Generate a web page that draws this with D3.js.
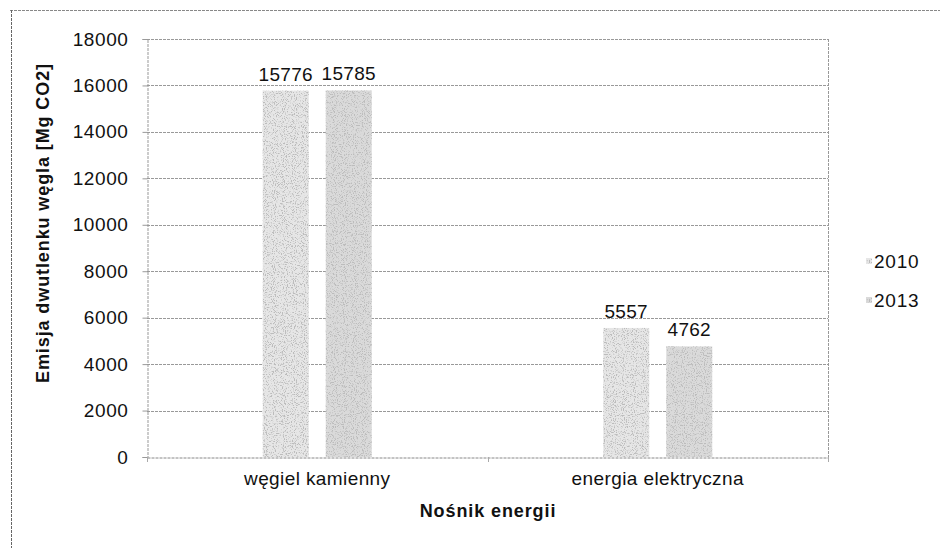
<!DOCTYPE html>
<html>
<head>
<meta charset="utf-8">
<script src="https://cdn.jsdelivr.net/npm/d3@7"></script>
<style>
  body { margin: 0; background: #fff; }
  svg text { font-family: "Liberation Sans", Arial, sans-serif; fill: #111; }
</style>
</head>
<body>
<div id="chart"></div>
<script>
// dane wykresu
var categories = ['węgiel kamienny', 'energia elektryczna'];
var seriesNames = ['2010', '2013'];
var values2010 = [15776, 5557];
var values2013 = [15785, 4762];
var yTicks = [0, 2000, 4000, 6000, 8000, 10000, 12000, 14000, 16000, 18000];

var opt = {
    width: 940,
    height: 548,
    left: 147,
    right: 828,
    top: 39,
    bottom: 457,
    fills: ['#e6e6e6', '#dadada'],
    gridC: '#999',
    labelGap: 10,
    fontSize: '19px'
};

var svg = d3.select('#chart').append('svg')
    .attr('width', opt.width)
    .attr('height', opt.height);

// ziarnista tekstura słupków (jak na skanie)
var defs = svg.append('defs');
var f = defs.append('filter').attr('id', 'grain')
    .attr('x', 0).attr('y', 0).attr('width', 1).attr('height', 1);
f.append('feTurbulence').attr('type', 'fractalNoise').attr('baseFrequency', 0.9)
    .attr('numOctaves', 2).attr('seed', 4).attr('result', 'n');
f.append('feColorMatrix').attr('in', 'n').attr('type', 'matrix')
    .attr('values', '0 0 0 0 0.5  0 0 0 0 0.5  0 0 0 0 0.5  6 0 0 0 -3.1')
    .attr('result', 'dots');
f.append('feComposite').attr('in', 'dots').attr('in2', 'SourceGraphic')
    .attr('operator', 'in').attr('result', 'd2');
var m = f.append('feMerge');
m.append('feMergeNode').attr('in', 'SourceGraphic');
m.append('feMergeNode').attr('in', 'd2');

// ramka (górna i lewa krawędź)
svg.append('line').attr('x1', 10).attr('y1', 10.5).attr('x2', 940).attr('y2', 10.5)
    .style('stroke', '#888').style('stroke-width', 1).style('stroke-dasharray', '3 1');
svg.append('line').attr('x1', 11.5).attr('y1', 10).attr('x2', 11.5).attr('y2', 548)
    .style('stroke', '#666').style('stroke-width', 1).style('stroke-dasharray', '3 1');

var x = d3.scaleBand().domain(categories).range([opt.left, opt.right]);
var xInner = d3.scaleBand().domain(seriesNames).paddingInner(0.27);
var y = d3.scaleLinear().domain([0, 18000]).range([opt.bottom, opt.top]);

// linie siatki
svg.append('g').selectAll('line').data(yTicks.slice(1)).enter().append('line')
    .attr('x1', opt.left).attr('x2', opt.right)
    .attr('y1', function (d) { return Math.round(y(d)) + 0.5; })
    .attr('y2', function (d) { return Math.round(y(d)) + 0.5; })
    .style('stroke', opt.gridC).style('stroke-width', 1).style('stroke-dasharray', '3 1');

// prawa krawędź obszaru wykresu
svg.append('line').attr('x1', opt.right + 0.5).attr('x2', opt.right + 0.5)
    .attr('y1', opt.top).attr('y2', opt.bottom + 5)
    .style('stroke', opt.gridC).style('stroke-width', 1).style('stroke-dasharray', '3 1');

// oś Y
var yAxis = svg.append('g')
    .attr('transform', 'translate(' + (opt.left + 0.5) + ',0)')
    .call(d3.axisLeft(y).tickValues(yTicks).tickSize(5).tickPadding(14).tickFormat(d3.format('d')));
yAxis.select('.domain').style('stroke', '#999').style('stroke-dasharray', '3 1');
yAxis.selectAll('.tick line').style('stroke', '#999');
yAxis.selectAll('.tick text').style('font-size', opt.fontSize).style('letter-spacing', '0.6px').style('fill', '#111');

// oś X
var xAxis = svg.append('g')
    .attr('transform', 'translate(0,' + (Math.round(opt.bottom) + 0.5) + ')')
    .call(d3.axisBottom(x).tickSize(0).tickPadding(14));
xAxis.select('.domain').style('stroke', '#888').style('stroke-dasharray', '3 1');
xAxis.selectAll('.tick text').style('font-size', opt.fontSize).style('letter-spacing', '0.4px').style('fill', '#111');
// znaczniki kategorii
svg.append('g').selectAll('line').data([opt.left, x(categories[1]), opt.right]).enter().append('line')
    .attr('x1', function (d) { return Math.round(d) + 0.5; })
    .attr('x2', function (d) { return Math.round(d) + 0.5; })
    .attr('y1', opt.bottom).attr('y2', opt.bottom + 5)
    .style('stroke', '#aaa').style('stroke-width', 1);

// słupki
var series = [values2010, values2013];
var inner = 109;
seriesNames.forEach(function (s, si) {
    var g = svg.append('g');
    categories.forEach(function (c, ci) {
        var cx = x(c) + x.bandwidth() / 2;
        xInner.range([cx - inner / 2, cx + inner / 2]);
        var bx = xInner(s), bw = xInner.bandwidth(), v = series[si][ci];
        g.append('rect')
            .attr('x', bx).attr('y', y(v))
            .attr('width', bw).attr('height', y(0) - y(v))
            .attr('fill', opt.fills[si])
            .attr('filter', 'url(#grain)');
        g.append('text').text(v)
            .attr('x', bx + bw / 2).attr('y', y(v) - opt.labelGap)
            .attr('text-anchor', 'middle')
            .style('font-size', opt.fontSize).style('letter-spacing', '0.3px');
    });
});

// tytuł osi Y
svg.append('text').text('Emisja dwutlenku węgla [Mg CO2]')
    .attr('transform', 'translate(49,223) rotate(-90)')
    .attr('text-anchor', 'middle')
    .style('font-size', '18px').style('font-weight', 'bold').style('letter-spacing', '0.9px');

// tytuł osi X
svg.append('text').text('Nośnik energii')
    .attr('x', 488).attr('y', 517)
    .attr('text-anchor', 'middle')
    .style('font-size', '18px').style('font-weight', 'bold').style('letter-spacing', '0.9px');

// legenda
var leg = svg.append('g').selectAll('g').data(seriesNames).enter().append('g')
    .attr('transform', function (d, i) { return 'translate(866,' + (261 + i * 39) + ')'; });
leg.append('rect').attr('x', 0).attr('y', -3).attr('width', 6).attr('height', 6)
    .attr('fill', function (d, i) { return opt.fills[i]; })
    .attr('filter', 'url(#grain)');
leg.append('text').text(function (d) { return d; })
    .attr('x', 8).attr('y', 7)
    .style('font-size', opt.fontSize).style('letter-spacing', '0.8px');
</script>
</body>
</html>
